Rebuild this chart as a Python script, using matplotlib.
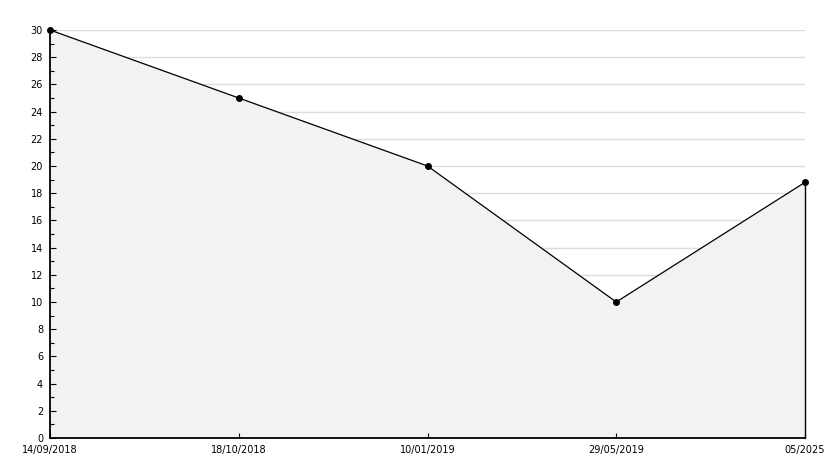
import numpy as np
import matplotlib.pyplot as plt
from matplotlib.ticker import MultipleLocator

# dates (as labels) and values
dates = ["14/09/2018", "18/10/2018", "10/01/2019", "29/05/2019", "05/2025"]
values = [30, 25, 20, 10, 18.8]

x = np.arange(len(dates))

fig = plt.figure(figsize=(8.34, 4.68), dpi=100)
ax = fig.add_axes([50 / 834, 30 / 468, 755 / 834, 408 / 468])

# grid first, fill covers it
for yv in range(2, 31, 2):
    ax.axhline(yv, color="#dcdcdc", lw=1, zorder=0)

ax.fill_between(x, values, 0, color="#f2f2f2", zorder=1)
ax.plot([x[-1], x[-1]], [0, values[-1]], color="black", lw=1, zorder=2, clip_on=False)
ax.plot(x, values, color="black", lw=0.9, zorder=3, clip_on=False)
ax.plot(x, values, ls="none", marker="o", ms=4, color="black", zorder=4, clip_on=False)

ax.set_xlim(0, len(dates) - 1)
ax.set_ylim(0, 30)
ax.set_xticks(x)
ax.set_xticklabels(dates, fontsize=7)
ax.yaxis.set_major_locator(MultipleLocator(2))
ax.yaxis.set_minor_locator(MultipleLocator(1))
ax.tick_params(axis="y", which="major", direction="in", length=4.5, width=0.8, labelsize=7, pad=5)
ax.tick_params(axis="y", which="minor", direction="in", length=3, width=0.8)
ax.tick_params(axis="x", direction="in", length=3.5, width=0.8, labelsize=7, pad=5)

for s in ["top", "right"]:
    ax.spines[s].set_visible(False)
ax.spines["left"].set_linewidth(1.3)
ax.spines["bottom"].set_linewidth(1.3)

fig.savefig("out.png", dpi=100)
